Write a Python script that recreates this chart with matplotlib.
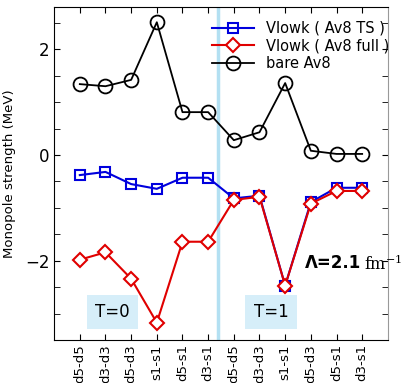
import numpy as np
import matplotlib.pyplot as plt
from matplotlib.ticker import MultipleLocator

labels = ["d5-d5", "d3-d3", "d5-d3", "s1-s1", "d5-s1", "d3-s1",
          "d5-d5", "d3-d3", "s1-s1", "d5-d3", "d5-s1", "d3-s1"]
vlowk_ts = [-0.38, -0.32, -0.55, -0.64, -0.43, -0.43,
            -0.82, -0.77, -2.47, -0.89, -0.62, -0.62]
vlowk_full = [-1.98, -1.84, -2.34, -3.17, -1.64, -1.64,
              -0.85, -0.79, -2.47, -0.92, -0.68, -0.68]
bare_av8 = [1.34, 1.30, 1.42, 2.51, 0.81, 0.81,
            0.28, 0.43, 1.36, 0.08, 0.02, 0.02]

x = np.arange(1, len(labels) + 1)

fig = plt.figure(figsize=(4.04, 3.83), dpi=100)
ax = fig.add_axes([0.134, 0.112, 0.826, 0.870])

ax.axvline(6.4, color="#b3e0f2", lw=2.5, zorder=0)

ax.plot(x, vlowk_ts, color="#0000dd", lw=1.5, marker="s", ms=7,
        mfc="none", mec="#0000dd", mew=1.5, label="Vlowk ( Av8 TS )")
ax.plot(x, vlowk_full, color="#e00000", lw=1.5, marker="D", ms=7,
        mfc="white", mec="#e00000", mew=1.5, label="Vlowk ( Av8 full )")
ax.plot(x, bare_av8, color="black", lw=1.3, marker="o", ms=10,
        mfc="none", mec="black", mew=1.3, label="bare Av8")

ax.set_xlim(0, 13)
ax.set_ylim(-3.5, 2.8)
ax.set_xticks(x)
ax.set_xticklabels(labels, rotation=90, fontsize=9.5)
ax.yaxis.set_major_locator(MultipleLocator(2))
ax.yaxis.set_minor_locator(MultipleLocator(0.5))
ax.tick_params(axis="both", direction="in", top=True, right=True, length=4)
ax.tick_params(axis="x", pad=3)
ax.tick_params(axis="y", which="minor", direction="in", right=True, length=4)
ax.tick_params(axis="y", labelsize=12)
ax.spines["right"].set_color("#999999")

ax.set_ylabel("Monopole strength (MeV)", fontsize=9.5, labelpad=6)

ax.text(2.28, -2.97, "T=0", fontsize=12, ha="center", va="center",
        bbox=dict(boxstyle="square,pad=0.5", fc="#d6eef9", ec="none"))
ax.text(8.45, -2.97, "T=1", fontsize=12, ha="center", va="center",
        bbox=dict(boxstyle="square,pad=0.5", fc="#d6eef9", ec="none"))

t = ax.text(9.77, -2.04, "Λ=2.1", fontsize=12, fontweight="bold",
            ha="left", va="center", clip_on=False)
ax.annotate(r"$\mathrm{fm}^{-1}$", xy=(1, 0.5), xycoords=t,
            xytext=(2, 0), textcoords="offset points",
            fontsize=11.5, math_fontfamily="dejavuserif",
            ha="left", va="center", annotation_clip=False)

ax.legend(loc="upper right", bbox_to_anchor=(1.03, 0.985), frameon=False,
          fontsize=10.5, handlelength=2.9, labelspacing=0.2, borderaxespad=0.2)

fig.savefig("out.png", dpi=100)
